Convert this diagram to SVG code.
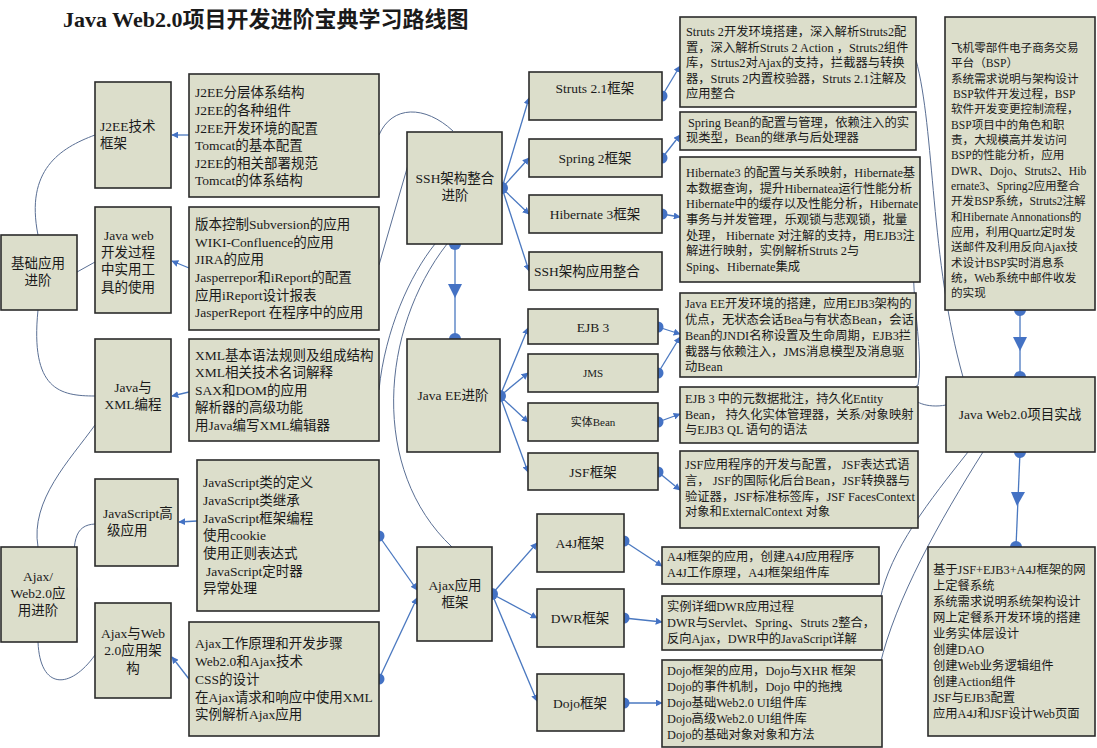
<svg xmlns="http://www.w3.org/2000/svg" width="1097" height="748" viewBox="0 0 1097 748">
<style>
.b{fill:#dcdecb;stroke:#2b2b2b;stroke-width:1.6}
text{font-family:"Liberation Serif","Noto Sans CJK SC",serif;fill:#1a1a1a}
.t{font-size:13.5px}
.s{font-size:12.3px}
.n{font-size:13.5px}
.c{text-anchor:middle}
.cn{fill:none;stroke:#5a6f94;stroke-width:1}
.ar{fill:none;stroke:#4a78c0;stroke-width:1.3;marker-end:url(#ah)}
.ln{fill:none;stroke:#4a78c0;stroke-width:1.3}
.d{fill:#4472c4}
</style>
<defs>
<marker id="ah" viewBox="0 0 10 10" refX="9" refY="5" markerWidth="7" markerHeight="7" orient="auto" markerUnits="userSpaceOnUse"><path d="M0,0 L10,5 L0,10 z" fill="#4472c4"/></marker>
<marker id="ah2" viewBox="0 0 10 10" refX="9" refY="5" markerWidth="13" markerHeight="13" orient="auto" markerUnits="userSpaceOnUse"><path d="M0,0 L10,5 L0,10 z" fill="#4472c4"/></marker>
</defs>
<rect width="1097" height="748" fill="#fff"/>
<text x="63" y="27" style="font-size:22px;font-weight:bold">Java Web2.0项目开发进阶宝典学习路线图</text>

<g id="connectors">
<path class="cn" d="M38,235 C25,170 60,148 95,135"/>
<path class="cn" d="M77,272 L95,262"/>
<path class="cn" d="M38,310 C30,390 60,396 95,396"/>
<path class="cn" d="M38,547 C30,500 70,460 95,425"/>
<path class="cn" d="M77,590 C70,540 75,525 95,524"/>
<path class="cn" d="M38,642 C40,690 70,690 95,655"/>
<path class="cn" d="M379,135 C392,105 425,105 453,131"/>
<path class="cn" d="M379,265 L408,165"/>
<path class="cn" d="M379,390 C385,330 410,275 435,244"/>
<path class="cn" d="M452,547 C370,470 380,330 447,244"/>
<path class="cn" d="M916,60 C935,130 930,260 963,377"/>
<path class="cn" d="M918,230 C905,280 925,345 918,385 C900,395 920,410 946,405"/>
<path class="cn" d="M968,452 C930,500 890,550 880,600"/>
<path class="cn" d="M983,452 C940,520 895,600 880,665"/>
<path class="ar" d="M189,135 L172,135" marker-end="url(#ah2)"/>
<path class="ar" d="M189,268 L172,261" marker-end="url(#ah2)"/>
<path class="ar" d="M189,392 L172,396" marker-end="url(#ah2)"/>
<path class="ar" d="M197,521 L179,522" marker-end="url(#ah2)"/>
<path class="ar" d="M189,679 L172,657" marker-end="url(#ah2)"/>
<path class="ar" d="M379,536 L417,590" marker-end="url(#ah2)"/>
<path class="ar" d="M379,679 L417,598" marker-end="url(#ah2)"/>
<path class="ar" d="M502,188 L529,98" marker-end="url(#ah2)"/>
<path class="ar" d="M502,188 L529,158" marker-end="url(#ah2)"/>
<path class="ar" d="M502,188 L529,214" marker-end="url(#ah2)"/>
<path class="ar" d="M502,188 L529,271" marker-end="url(#ah2)"/>
<path class="ln" d="M455,244 L455,339"/>
<path d="M448,284 L462,284 L455,298 z" class="d"/>
<path class="ar" d="M500,396 L528,328" marker-end="url(#ah2)"/>
<path class="ar" d="M500,396 L528,373" marker-end="url(#ah2)"/>
<path class="ar" d="M500,396 L528,422" marker-end="url(#ah2)"/>
<path class="ar" d="M500,396 L528,472" marker-end="url(#ah2)"/>
<path class="ar" d="M662,96 L680,66" marker-end="url(#ah2)"/>
<path class="ar" d="M662,158 L680,135" marker-end="url(#ah2)"/>
<path class="ar" d="M662,214 L680,217" marker-end="url(#ah2)"/>
<path class="ar" d="M658,327 L680,334" marker-end="url(#ah2)"/>
<path class="ar" d="M658,373 L680,337" marker-end="url(#ah2)"/>
<path class="ar" d="M658,422 L680,414" marker-end="url(#ah2)"/>
<path class="ar" d="M658,472 L680,490" marker-end="url(#ah2)"/>
<path class="ar" d="M492,594 L537,543" marker-end="url(#ah2)"/>
<path class="ar" d="M492,594 L537,618" marker-end="url(#ah2)"/>
<path class="ar" d="M492,594 L537,701" marker-end="url(#ah2)"/>
<path class="ar" d="M624,541 L662,566" marker-end="url(#ah2)"/>
<path class="ar" d="M624,618 L662,622" marker-end="url(#ah2)"/>
<path class="ar" d="M624,703 L662,703" marker-end="url(#ah2)"/>
<path class="ln" d="M1020,310 L1020,377"/>
<path d="M1013,337 L1027,337 L1020,351 z" class="d"/>
<path class="ln" d="M1020,452 L1016,547"/>
<path d="M1011,492 L1025,492 L1017,506 z" class="d"/>
<g class="d">
<circle cx="379" cy="536" r="5.5"/><circle cx="379" cy="679" r="5.5"/>
<circle cx="502" cy="188" r="6"/><circle cx="455" cy="244" r="6"/><circle cx="455" cy="339" r="6"/>
<circle cx="500" cy="396" r="6"/><circle cx="662" cy="96" r="5.5"/><circle cx="662" cy="158" r="5.5"/><circle cx="662" cy="214" r="5.5"/>
<circle cx="658" cy="327" r="5.5"/><circle cx="658" cy="373" r="5.5"/><circle cx="658" cy="422" r="5.5"/><circle cx="658" cy="472" r="5.5"/>
<circle cx="492" cy="594" r="6"/><circle cx="624" cy="541" r="5.5"/><circle cx="624" cy="618" r="5.5"/><circle cx="624" cy="703" r="5.5"/>
<circle cx="1020" cy="310" r="6"/><circle cx="1020" cy="377" r="6"/><circle cx="1020" cy="452" r="6"/><circle cx="1016" cy="547" r="6"/>
</g>
</g>

<g id="jichu"><rect class="b" x="1" y="235" width="76" height="75"/><text class="n c" x="38" y="268">基础应用</text><text class="n c" x="38" y="285">进阶</text></g>
<g id="j2ee"><rect class="b" x="95" y="82" width="76" height="106"/><text class="n" x="100" y="131">J2EE技术</text><text class="n" x="100" y="148">框架</text></g>
<g id="j2ee-d"><rect class="b" x="189" y="74" width="190" height="123"/><text class="t" x="195"><tspan x="195" y="97">J2EE分层体系结构</tspan><tspan x="195" y="115">J2EE的各种组件</tspan><tspan x="195" y="133">J2EE开发环境的配置</tspan><tspan x="195" y="150">Tomcat的基本配置</tspan><tspan x="195" y="168">J2EE的相关部署规范</tspan><tspan x="195" y="185">Tomcat的体系结构</tspan></text></g>
<g id="javaweb"><rect class="b" x="95" y="207" width="76" height="106"/><text class="n"><tspan x="104" y="240">Java web</tspan><tspan x="101" y="257">开发过程</tspan><tspan x="101" y="274">中实用工</tspan><tspan x="101" y="292">具的使用</tspan></text></g>
<g id="javaweb-d"><rect class="b" x="189" y="207" width="190" height="123"/><text class="t"><tspan x="195" y="229">版本控制Subversion的应用</tspan><tspan x="195" y="247">WIKI-Confluence的应用</tspan><tspan x="195" y="264">JIRA的应用</tspan><tspan x="195" y="282">Jasperrepor和iReport的配置</tspan><tspan x="195" y="300">应用iReport设计报表</tspan><tspan x="195" y="317">JasperReport 在程序中的应用</tspan></text></g>
<g id="xml"><rect class="b" x="95" y="339" width="76" height="113"/><text class="n c" x="133" y="392">Java与</text><text class="n c" x="133" y="409">XML编程</text></g>
<g id="xml-d"><rect class="b" x="189" y="339" width="190" height="102"/><text class="t"><tspan x="195" y="360">XML基本语法规则及组成结构</tspan><tspan x="195" y="377">XML相关技术名词解释</tspan><tspan x="195" y="395">SAX和DOM的应用</tspan><tspan x="195" y="412">解析器的高级功能</tspan><tspan x="195" y="430">用Java编写XML编辑器</tspan></text></g>
<g id="ajaxweb"><rect class="b" x="1" y="547" width="76" height="95"/><text class="n c"><tspan x="38" y="581">Ajax/</tspan><tspan x="38" y="598">Web2.0应</tspan><tspan x="38" y="615">用进阶</tspan></text></g>
<g id="js"><rect class="b" x="95" y="479" width="83" height="87"/><text class="n"><tspan x="103" y="518">JavaScript高</tspan><tspan x="107" y="535">级应用</tspan></text></g>
<g id="js-d"><rect class="b" x="197" y="460" width="182" height="151"/><text class="t"><tspan x="203" y="487">JavaScript类的定义</tspan><tspan x="203" y="505">JavaScript类继承</tspan><tspan x="203" y="523">JavaScript框架编程</tspan><tspan x="203" y="540">使用cookie</tspan><tspan x="203" y="558">使用正则表达式</tspan><tspan x="206" y="576">JavaScript定时器</tspan><tspan x="203" y="593">异常处理</tspan></text></g>
<g id="ajaxarch"><rect class="b" x="95" y="603" width="76" height="95"/><text class="n c"><tspan x="133" y="638">Ajax与Web</tspan><tspan x="133" y="655">2.0应用架</tspan><tspan x="133" y="673">构</tspan></text></g>
<g id="ajaxarch-d"><rect class="b" x="189" y="622" width="190" height="114"/><text class="t"><tspan x="195" y="648">Ajax工作原理和开发步骤</tspan><tspan x="195" y="666">Web2.0和Ajax技术</tspan><tspan x="195" y="684">CSS的设计</tspan><tspan x="195" y="702">在Ajax请求和响应中使用XML</tspan><tspan x="195" y="719">实例解析Ajax应用</tspan></text></g>

<g id="ssh"><rect class="b" x="407" y="132" width="95" height="112"/><text class="n c" x="455" y="183">SSH架构整合</text><text class="n c" x="455" y="200">进阶</text></g>
<g id="javaee"><rect class="b" x="407" y="339" width="93" height="113"/><text class="n c" x="453" y="400">Java EE进阶</text></g>
<g id="ajaxfw"><rect class="b" x="417" y="547" width="75" height="94"/><text class="n c" x="455" y="590">Ajax应用</text><text class="n c" x="455" y="607">框架</text></g>

<g id="struts"><rect class="b" x="529" y="72" width="133" height="48"/><text class="n c" x="595" y="93">Struts 2.1框架</text></g>
<g id="spring"><rect class="b" x="529" y="139" width="133" height="38"/><text class="n c" x="595" y="163">Spring 2框架</text></g>
<g id="hibernate"><rect class="b" x="529" y="195" width="133" height="38"/><text class="n c" x="595" y="219">Hibernate 3框架</text></g>
<g id="sshapp"><rect class="b" x="529" y="252" width="133" height="38"/><text class="n" x="534" y="276">SSH架构应用整合</text></g>
<g id="ejb3"><rect class="b" x="528" y="309" width="130" height="35"/><text class="n c" x="593" y="332">EJB 3</text></g>
<g id="jms"><rect class="b" x="528" y="354" width="130" height="38"/><text class="c" style="font-size:11px" x="593" y="377">JMS</text></g>
<g id="entity"><rect class="b" x="528" y="403" width="130" height="38"/><text class="c" style="font-size:11px" x="593" y="426">实体Bean</text></g>
<g id="jsf"><rect class="b" x="528" y="453" width="130" height="37"/><text class="n c" x="593" y="477">JSF框架</text></g>
<g id="a4j"><rect class="b" x="537" y="514" width="87" height="58"/><text class="n c" x="580" y="548">A4J框架</text></g>
<g id="dwr"><rect class="b" x="537" y="589" width="87" height="58"/><text class="n c" x="580" y="623">DWR框架</text></g>
<g id="dojo"><rect class="b" x="537" y="674" width="87" height="57"/><text class="n c" x="580" y="708">Dojo框架</text></g>

<g id="struts-d"><rect class="b" x="680" y="17" width="236" height="90"/><text class="s"><tspan x="686" y="36">Struts 2开发环境搭建，深入解析Struts2配</tspan><tspan x="686" y="52">置，深入解析Struts 2 Action ，Struts2组件</tspan><tspan x="686" y="67">库，Strtus2对Ajax的支持，拦截器与转换</tspan><tspan x="686" y="83">器，Struts 2内置校验器，Struts 2.1注解及</tspan><tspan x="686" y="98">应用整合</tspan></text></g>
<g id="spring-d"><rect class="b" x="680" y="112" width="236" height="38"/><text class="s"><tspan x="688" y="127">Spring Bean的配置与管理，依赖注入的实</tspan><tspan x="686" y="142">现类型，Bean的继承与后处理器</tspan></text></g>
<g id="hibernate-d"><rect class="b" x="680" y="157" width="240" height="125"/><text class="s"><tspan x="686" y="177">Hibernate3 的配置与关系映射，Hibernate基</tspan><tspan x="686" y="193">本数据查询，提升Hibernatea运行性能分析</tspan><tspan x="686" y="208">Hibernate中的缓存以及性能分析，Hibernate</tspan><tspan x="686" y="224">事务与并发管理，乐观锁与悲观锁，批量</tspan><tspan x="686" y="240">处理， Hibernate 对注解的支持，用EJB3注</tspan><tspan x="686" y="255">解进行映射，实例解析Struts 2与</tspan><tspan x="686" y="271">Sping、Hibernate集成</tspan></text></g>
<g id="ejb3-d"><rect class="b" x="680" y="293" width="236" height="84"/><text class="s"><tspan x="685" y="308">Java EE开发环境的搭建，应用EJB3架构的</tspan><tspan x="685" y="324">优点，无状态会话Bea与有状态Bean，会话</tspan><tspan x="685" y="340">Bean的JNDI名称设置及生命周期，EJB3拦</tspan><tspan x="685" y="356">截器与依赖注入，JMS消息模型及消息驱</tspan><tspan x="685" y="371">动Bean</tspan></text></g>
<g id="entity-d"><rect class="b" x="680" y="387" width="238" height="56"/><text class="s"><tspan x="685" y="403">EJB 3 中的元数据批注，持久化Entity</tspan><tspan x="685" y="419">Bean， 持久化实体管理器，关系/对象映射</tspan><tspan x="685" y="434">与EJB3 QL 语句的语法</tspan></text></g>
<g id="jsf-d"><rect class="b" x="680" y="451" width="238" height="77"/><text class="s"><tspan x="685" y="469">JSF应用程序的开发与配置， JSF表达式语</tspan><tspan x="685" y="485">言， JSF的国际化后台Bean，JSF转换器与</tspan><tspan x="685" y="501">验证器，JSF标准标签库，JSF FacesContext</tspan><tspan x="685" y="516">对象和ExternalContext 对象</tspan></text></g>
<g id="a4j-d"><rect class="b" x="662" y="547" width="217" height="37"/><text class="s"><tspan x="667" y="561">A4J框架的应用，创建A4J应用程序</tspan><tspan x="667" y="577">A4J工作原理，A4J框架组件库</tspan></text></g>
<g id="dwr-d"><rect class="b" x="662" y="596" width="220" height="54"/><text class="s"><tspan x="667" y="611">实例详细DWR应用过程</tspan><tspan x="667" y="627">DWR与Servlet、Spring、Struts 2整合，</tspan><tspan x="667" y="643">反向Ajax，DWR中的JavaScript详解</tspan></text></g>
<g id="dojo-d"><rect class="b" x="662" y="660" width="220" height="87"/><text class="s"><tspan x="667" y="675">Dojo框架的应用，Dojo与XHR 框架</tspan><tspan x="667" y="691">Dojo的事件机制，Dojo 中的拖拽</tspan><tspan x="667" y="707">Dojo基础Web2.0 UI组件库</tspan><tspan x="667" y="723">Dojo高级Web2.0 UI组件库</tspan><tspan x="667" y="739">Dojo的基础对象对象和方法</tspan></text></g>

<g id="bsp"><rect class="b" x="945" y="17" width="150" height="293"/><text style="font-size:11.6px"><tspan x="951" y="52">飞机零部件电子商务交易</tspan><tspan x="951" y="67">平台（BSP）</tspan><tspan x="951" y="83">系统需求说明与架构设计</tspan><tspan x="953" y="98">BSP软件开发过程，BSP</tspan><tspan x="951" y="113">软件开发变更控制流程，</tspan><tspan x="951" y="129">BSP项目中的角色和职</tspan><tspan x="951" y="144">责，大规模高并发访问</tspan><tspan x="951" y="159">BSP的性能分析，应用</tspan><tspan x="951" y="175">DWR、Dojo、Struts2、Hib</tspan><tspan x="951" y="190">ernate3、Spring2应用整合</tspan><tspan x="951" y="205">开发BSP系统，Struts2注解</tspan><tspan x="951" y="221">和Hibernate Annonations的</tspan><tspan x="951" y="236">应用，利用Quartz定时发</tspan><tspan x="951" y="251">送邮件及利用反向Ajax技</tspan><tspan x="951" y="267">术设计BSP实时消息系</tspan><tspan x="951" y="282">统，Web系统中邮件收发</tspan><tspan x="951" y="297">的实现</tspan></text></g>
<g id="project"><rect class="b" x="946" y="377" width="149" height="75"/><text class="n c" x="1020" y="419">Java Web2.0项目实战</text></g>
<g id="final"><rect class="b" x="928" y="547" width="167" height="189"/><text class="s"><tspan x="933" y="574">基于JSF+EJB3+A4J框架的网</tspan><tspan x="933" y="590">上定餐系统</tspan><tspan x="933" y="606">系统需求说明系统架构设计</tspan><tspan x="933" y="622">网上定餐系开发环境的搭建</tspan><tspan x="933" y="638">业务实体层设计</tspan><tspan x="933" y="654">创建DAO</tspan><tspan x="933" y="670">创建Web业务逻辑组件</tspan><tspan x="933" y="686">创建Action组件</tspan><tspan x="933" y="702">JSF与EJB3配置</tspan><tspan x="933" y="718">应用A4J和JSF设计Web页面</tspan></text></g>
</svg>
